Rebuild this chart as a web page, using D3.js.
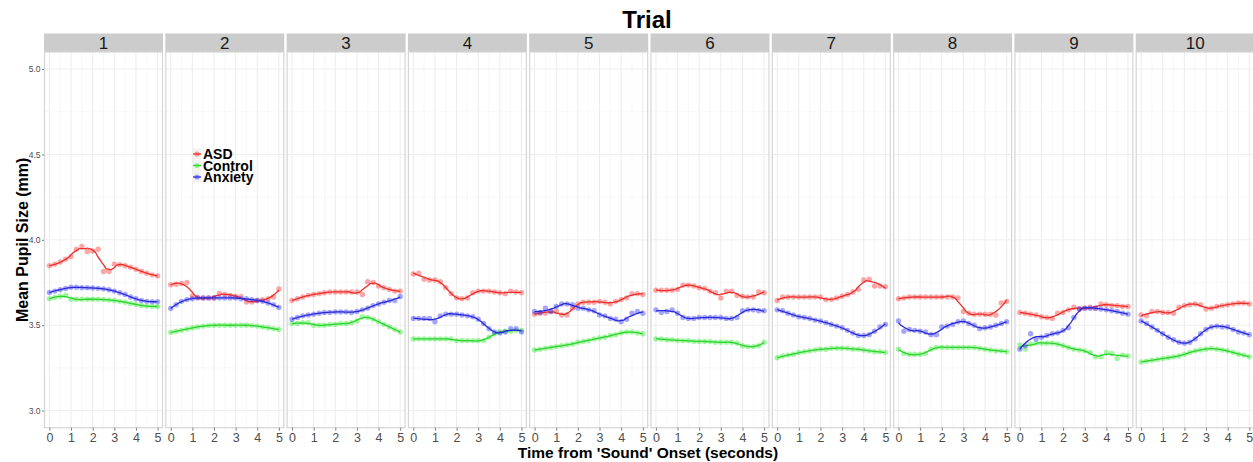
<!DOCTYPE html>
<html>
<head>
<meta charset="utf-8">
<script src="https://cdn.jsdelivr.net/npm/d3@7"></script>
<style>
  body { margin: 0; background: #fff; }
  svg { display: block; font-family: "Liberation Sans", Arial, sans-serif; }
</style>
</head>
<body>
<svg id="chart" width="1253" height="462"></svg>
<script>
// ---------------- data ----------------
const trials = ["1","2","3","4","5","6","7","8","9","10"];
const times = [0,0.25,0.5,0.75,1,1.25,1.5,1.75,2,2.25,2.5,2.75,3,3.25,3.5,3.75,4,4.25,4.5,4.75,5];
const groups = ["ASD","Control","Anxiety"];
const xTicks = [0,1,2,3,4,5];
const yTicks = [3.0,3.5,4.0,4.5,5.0];

const asd = [
  [3.848,3.858,3.87,3.887,3.902,3.945,3.961,3.932,3.935,3.945,3.815,3.815,3.858,3.855,3.848,3.84,3.828,3.815,3.805,3.795,3.789],
  [3.737,3.74,3.745,3.75,3.672,3.663,3.66,3.66,3.66,3.688,3.68,3.675,3.67,3.668,3.636,3.636,3.645,3.649,3.655,3.665,3.712],
  [3.645,3.655,3.665,3.675,3.68,3.685,3.69,3.695,3.695,3.695,3.695,3.695,3.695,3.68,3.755,3.75,3.73,3.72,3.71,3.70,3.70],
  [3.80,3.805,3.77,3.765,3.765,3.755,3.72,3.685,3.66,3.655,3.66,3.69,3.70,3.70,3.70,3.695,3.69,3.685,3.70,3.695,3.69],
  [3.565,3.57,3.57,3.58,3.58,3.56,3.56,3.60,3.625,3.635,3.635,3.635,3.64,3.635,3.625,3.64,3.65,3.66,3.685,3.685,3.68],
  [3.705,3.705,3.705,3.705,3.71,3.735,3.735,3.73,3.72,3.715,3.70,3.69,3.66,3.70,3.70,3.675,3.67,3.665,3.665,3.695,3.69],
  [3.645,3.665,3.665,3.665,3.665,3.665,3.665,3.665,3.665,3.65,3.65,3.66,3.67,3.68,3.695,3.71,3.765,3.77,3.73,3.73,3.725],
  [3.655,3.66,3.665,3.665,3.665,3.665,3.665,3.665,3.665,3.665,3.665,3.66,3.58,3.57,3.565,3.565,3.565,3.565,3.56,3.63,3.64],
  [3.575,3.57,3.565,3.56,3.55,3.545,3.54,3.57,3.575,3.59,3.605,3.595,3.60,3.605,3.60,3.625,3.62,3.615,3.615,3.61,3.61],
  [3.56,3.555,3.58,3.58,3.575,3.575,3.57,3.605,3.615,3.62,3.625,3.62,3.595,3.60,3.61,3.615,3.62,3.625,3.63,3.63,3.625]
];
const control = [
  [3.655,3.663,3.67,3.676,3.652,3.652,3.652,3.652,3.652,3.652,3.65,3.648,3.645,3.64,3.635,3.628,3.622,3.616,3.612,3.61,3.61],
  [3.458,3.465,3.47,3.478,3.485,3.49,3.495,3.498,3.50,3.50,3.50,3.50,3.50,3.50,3.50,3.498,3.495,3.49,3.485,3.48,3.475],
  [3.51,3.51,3.515,3.515,3.50,3.50,3.50,3.505,3.505,3.51,3.51,3.515,3.525,3.55,3.545,3.535,3.52,3.505,3.49,3.475,3.46],
  [3.42,3.42,3.42,3.42,3.42,3.42,3.42,3.42,3.41,3.41,3.41,3.41,3.41,3.41,3.43,3.45,3.46,3.465,3.465,3.47,3.47],
  [3.355,3.36,3.365,3.37,3.375,3.38,3.385,3.39,3.40,3.405,3.41,3.42,3.425,3.43,3.44,3.445,3.455,3.46,3.46,3.455,3.45],
  [3.42,3.42,3.415,3.415,3.41,3.41,3.41,3.405,3.405,3.405,3.405,3.40,3.40,3.40,3.40,3.395,3.38,3.375,3.375,3.38,3.40],
  [3.31,3.32,3.325,3.33,3.34,3.345,3.35,3.355,3.36,3.36,3.365,3.365,3.365,3.365,3.36,3.36,3.355,3.35,3.345,3.345,3.34],
  [3.36,3.335,3.33,3.33,3.33,3.335,3.36,3.37,3.37,3.37,3.37,3.37,3.37,3.37,3.37,3.365,3.36,3.355,3.35,3.35,3.345],
  [3.385,3.36,3.39,3.395,3.395,3.395,3.395,3.39,3.38,3.37,3.36,3.355,3.35,3.34,3.315,3.315,3.34,3.335,3.305,3.325,3.32],
  [3.285,3.29,3.295,3.30,3.305,3.31,3.315,3.32,3.33,3.34,3.35,3.355,3.36,3.365,3.36,3.355,3.35,3.34,3.33,3.325,3.315]
];
const anxiety = [
  [3.692,3.70,3.708,3.715,3.722,3.722,3.72,3.72,3.718,3.716,3.713,3.708,3.70,3.69,3.68,3.665,3.655,3.645,3.64,3.638,3.638],
  [3.598,3.62,3.64,3.65,3.655,3.66,3.66,3.66,3.66,3.66,3.66,3.66,3.66,3.655,3.655,3.65,3.645,3.64,3.63,3.62,3.604],
  [3.535,3.545,3.555,3.56,3.565,3.57,3.575,3.575,3.578,3.578,3.578,3.575,3.58,3.59,3.60,3.615,3.625,3.635,3.645,3.645,3.668],
  [3.54,3.54,3.54,3.54,3.52,3.555,3.565,3.565,3.565,3.56,3.555,3.55,3.535,3.51,3.48,3.46,3.455,3.46,3.48,3.48,3.46],
  [3.58,3.575,3.60,3.58,3.61,3.625,3.625,3.62,3.60,3.60,3.59,3.585,3.56,3.555,3.54,3.535,3.52,3.535,3.57,3.58,3.57],
  [3.59,3.575,3.58,3.59,3.57,3.545,3.54,3.54,3.545,3.545,3.545,3.545,3.545,3.54,3.54,3.545,3.585,3.59,3.59,3.585,3.585],
  [3.59,3.585,3.57,3.56,3.55,3.545,3.54,3.53,3.525,3.515,3.505,3.495,3.485,3.47,3.455,3.44,3.44,3.445,3.465,3.49,3.505],
  [3.525,3.465,3.475,3.47,3.465,3.46,3.445,3.445,3.49,3.495,3.505,3.52,3.525,3.51,3.50,3.48,3.485,3.49,3.50,3.51,3.52],
  [3.36,3.38,3.45,3.42,3.43,3.44,3.45,3.455,3.47,3.485,3.545,3.595,3.60,3.60,3.60,3.595,3.59,3.585,3.58,3.57,3.565],
  [3.525,3.51,3.49,3.47,3.45,3.43,3.415,3.40,3.395,3.40,3.42,3.45,3.475,3.49,3.495,3.49,3.49,3.475,3.46,3.455,3.445]
];
const seriesValues = [asd, control, anxiety];
const lineColors = ["#e8302e", "#2fd12f", "#2a2ad4"];
const pointColors = ["#ff2a2a", "#22ee22", "#2a2aff"];

// local quadratic loess smoother (tricube weights) computed from the data points
function loess(xs, ys, q) {
  const n = xs.length;
  const lo = xs[0], hi = xs[n - 1];
  const grid = d3.range(0, 101).map(k => lo + (hi - lo) * k / 100);
  return grid.map(x0 => {
    const dist = xs.map(v => Math.abs(v - x0));
    const sorted = dist.slice().sort((a, b) => a - b);
    const h = Math.max(sorted[Math.min(q, n) - 1], 1e-9) * 1.0001;
    let S = [0,0,0,0,0], T = [0,0,0];
    for (let i = 0; i < n; i++) {
      const u = dist[i] / h;
      if (u >= 1) continue;
      const w = Math.pow(1 - u * u * u, 3);
      const dx = xs[i] - x0;
      let p = 1;
      for (let k = 0; k < 5; k++) { S[k] += w * p; if (k < 3) T[k] += w * p * ys[i]; p *= dx; }
    }
    // solve 3x3 system [[S0,S1,S2],[S1,S2,S3],[S2,S3,S4]] a = T
    const A = [[S[0],S[1],S[2],T[0]],[S[1],S[2],S[3],T[1]],[S[2],S[3],S[4],T[2]]];
    for (let c = 0; c < 3; c++) {
      let piv = c;
      for (let r = c + 1; r < 3; r++) if (Math.abs(A[r][c]) > Math.abs(A[piv][c])) piv = r;
      [A[c], A[piv]] = [A[piv], A[c]];
      for (let r = 0; r < 3; r++) {
        if (r === c) continue;
        const f = A[r][c] / A[c][c];
        for (let k = c; k < 4; k++) A[r][k] -= f * A[c][k];
      }
    }
    return [x0, A[0][3] / A[0][0]];
  });
}

// ---------------- layout ----------------
const svg = d3.select("#chart");
const panelLeft0 = 44, pitch = 121.3, panelW = 119;
const plotTop = 52, plotBottom = 427.7;
const stripTop = 33.5, stripH = 18.5;

const x = d3.scaleLinear().domain([-0.25, 5.25]).range([0, panelW]);
const y = d3.scaleLinear().domain([2.9, 5.1]).range([plotBottom, plotTop]);
const panelX = d3.scaleBand().domain(trials).range([panelLeft0, panelLeft0 + pitch * trials.length]).paddingInner(0);

// title
svg.append("text").attr("x", 647).attr("y", 28).attr("text-anchor", "middle")
  .attr("font-size", 24).attr("font-weight", "bold").attr("fill", "#000").text("Trial");

// y axis label
svg.append("text").attr("transform", `translate(28,${(plotTop + plotBottom) / 2}) rotate(-90)`)
  .attr("text-anchor", "middle").attr("font-size", 16).attr("font-weight", "bold").text("Mean Pupil Size (mm)");

// x axis label
svg.append("text").attr("x", 648).attr("y", 458).attr("text-anchor", "middle")
  .attr("font-size", 15.5).attr("font-weight", "bold").text("Time from 'Sound' Onset (seconds)");

const minorX = [0.5, 1.5, 2.5, 3.5, 4.5];
const minorY = [3.25, 3.75, 4.25, 4.75];

trials.forEach((t, i) => {
  const g = svg.append("g").attr("transform", `translate(${panelX(t)},0)`);
  // strip
  g.append("rect").attr("x", 0).attr("y", stripTop).attr("width", panelW).attr("height", stripH).attr("fill", "#cccccc");
  g.append("text").attr("x", panelW / 2).attr("y", stripTop + stripH / 2 + 6).attr("text-anchor", "middle")
    .attr("font-size", 17).attr("fill", "#1a1a1a").text(t);
  // grid
  g.selectAll(".gminx").data(minorX).join("line")
    .attr("x1", d => x(d)).attr("x2", d => x(d)).attr("y1", plotTop).attr("y2", plotBottom)
    .attr("stroke", "#f5f5f5").attr("stroke-width", 0.8);
  g.selectAll(".gminy").data(minorY).join("line")
    .attr("x1", 0).attr("x2", panelW).attr("y1", d => y(d)).attr("y2", d => y(d))
    .attr("stroke", "#f7f7f7").attr("stroke-width", 0.8);
  g.selectAll(".gmajx").data(xTicks).join("line")
    .attr("x1", d => x(d)).attr("x2", d => x(d)).attr("y1", plotTop).attr("y2", plotBottom)
    .attr("stroke", "#ececec").attr("stroke-width", 1);
  g.selectAll(".gmajy").data(yTicks).join("line")
    .attr("x1", 0).attr("x2", panelW).attr("y1", d => y(d)).attr("y2", d => y(d))
    .attr("stroke", "#efefef").attr("stroke-width", 1);
  // border
  g.append("rect").attr("x", 0.5).attr("y", plotTop).attr("width", panelW - 1).attr("height", plotBottom - plotTop)
    .attr("fill", "none").attr("stroke", "#d5d5d5").attr("stroke-width", 1.2);

  // series
  seriesValues.forEach((arr, s) => {
    const vals = arr[i];
    const pts = times.map((tt, k) => [tt, vals[k]]);
    g.selectAll(null).data(pts).join("circle")
      .attr("cx", d => x(d[0])).attr("cy", d => y(d[1])).attr("r", 2.7)
      .attr("fill", pointColors[s]).attr("fill-opacity", 0.42);
    const smooth = loess(times, vals, 8);
    g.append("path").datum(smooth)
      .attr("d", d3.line().x(d => x(d[0])).y(d => y(d[1])).curve(d3.curveMonotoneX))
      .attr("fill", "none").attr("stroke", lineColors[s]).attr("stroke-width", 1.3);
  });

  // x axis
  const ax = g.append("g").attr("transform", `translate(0,${plotBottom})`)
    .call(d3.axisBottom(x).tickValues(xTicks).tickSize(3).tickPadding(2).tickFormat(d3.format("d")));
  ax.select(".domain").remove();
  ax.selectAll("line").attr("stroke", "#7f7f7f");
  ax.selectAll("text").attr("font-size", 12.5).attr("fill", "#4d4d4d").attr("font-family", "Liberation Sans, Arial, sans-serif");

  if (i === 0) {
    const ay = g.append("g").call(d3.axisLeft(y).tickValues(yTicks).tickSize(2).tickPadding(1.5).tickFormat(d3.format(".1f")));
    ay.select(".domain").remove();
    ay.selectAll("line").attr("stroke", "#7f7f7f");
    ay.selectAll("text").attr("font-size", 8.5).attr("fill", "#4d4d4d").attr("font-family", "Liberation Sans, Arial, sans-serif");
  }
});

// legend (inside panel 2)
const leg = svg.append("g").attr("transform", "translate(193,154)");
groups.forEach((name, s) => {
  const row = leg.append("g").attr("transform", `translate(0,${s * 11.5})`);
  row.append("rect").attr("x", 0).attr("y", -5.5).attr("width", 8).attr("height", 11).attr("fill", "#f2f2f2");
  row.append("line").attr("x1", 0).attr("x2", 8).attr("y1", 0).attr("y2", 0).attr("stroke", lineColors[s]).attr("stroke-width", 1.3);
  row.append("circle").attr("cx", 4).attr("cy", 0).attr("r", 2.6).attr("fill", pointColors[s]).attr("fill-opacity", 0.45);
  row.append("text").attr("x", 10).attr("y", 5).attr("font-size", 14).attr("font-weight", "bold").attr("fill", "#000").text(name);
});
</script>
</body>
</html>
